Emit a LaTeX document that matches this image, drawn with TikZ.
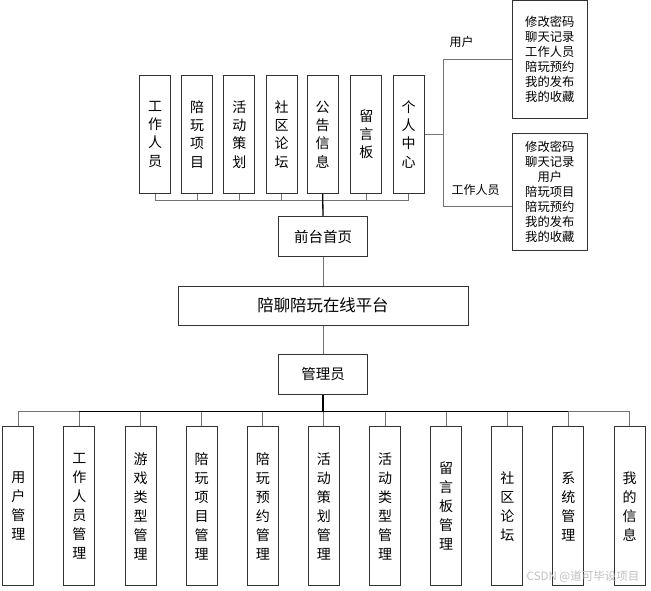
\documentclass[tikz,border=0pt]{standalone}
\usepackage{fontspec}
\setmainfont{Noto Sans CJK SC}
\begin{document}
\begin{tikzpicture}[x=1pt,y=-1pt,
  box/.style={draw=black!80, line width=1pt, inner sep=0pt, align=center},
  topbox/.style={box, minimum width=31pt, minimum height=118pt, font=\fontsize{14}{18.3}\selectfont},
  botbox/.style={box, minimum width=31pt, minimum height=159pt, font=\fontsize{14}{19}\selectfont},
  midbox/.style={box, minimum height=40pt, font=\fontsize{14.5}{17}\selectfont},
  sidebox/.style={box, minimum width=75pt, font=\fontsize{12.3}{15}\selectfont},
  lbl/.style={inner sep=0pt, font=\fontsize{12}{14}\selectfont},
  link/.style={draw=black!55, line width=0.9pt},
  mainlink/.style={draw=black, line width=1.3pt}]
\useasboundingbox (0,0) rectangle (651,591);

% top row
\node[topbox] (t1) at (155,134.3) {工\\作\\人\\员};
\node[topbox] (t2) at (197,134.3) {陪\\玩\\项\\目};
\node[topbox] (t3) at (239.3,134.3) {活\\动\\策\\划};
\node[topbox] (t4) at (281.7,134.3) {社\\区\\论\\坛};
\node[topbox] (t5) at (322.7,134.3) {公\\告\\信\\息};
\node[topbox] (t6) at (366.3,134.3) {留\\言\\板};
\node[topbox] (t7) at (408.7,134.3) {个\\人\\中\\心};

\node[midbox, minimum width=89pt] (home) at (323,236.7) {前台首页};
\node[midbox, minimum width=290pt, minimum height=39pt, font=\fontsize{16.4}{19}\selectfont] (plat) at (323,305.5) {陪聊陪玩在线平台};
\node[midbox, minimum width=89pt] (admin) at (323,374) {管理员};

% top bus
\coordinate (tb) at (323,200);
\draw[link] (t1.south) -- (t1.south |- tb) -- (t7.south |- tb) -- (t7.south);
\foreach \n in {t2,t3,t4,t6} \draw[link] (\n.south) -- (\n.south |- tb);
\draw[mainlink] (t5.south) -- (home.north);
\draw[link] (home.south) -- (plat.north);
\draw[link] (plat.south) -- (admin.north);

% bottom row
\node[botbox] (b1) at (18.3,506.3) {用\\户\\管\\理};
\node[botbox] (b2) at (79.4,506.3) {工\\作\\人\\员\\管\\理};
\node[botbox] (b3) at (140.6,506.3) {游\\戏\\类\\型\\管\\理};
\node[botbox] (b4) at (201.7,506.3) {陪\\玩\\项\\目\\管\\理};
\node[botbox] (b5) at (262.8,506.3) {陪\\玩\\预\\约\\管\\理};
\node[botbox] (b6) at (323.9,506.3) {活\\动\\策\\划\\管\\理};
\node[botbox] (b7) at (385.1,506.3) {活\\动\\类\\型\\管\\理};
\node[botbox] (b8) at (446.2,506.3) {留\\言\\板\\管\\理};
\node[botbox] (b9) at (507.3,506.3) {社\\区\\论\\坛};
\node[botbox] (b10) at (568.4,506.3) {系\\统\\管\\理};
\node[botbox] (b11) at (629.6,506.3) {我\\的\\信\\息};

\coordinate (bb) at (323,411.7);
\draw[link] (b1.north) -- (b1.north |- bb) -- (b11.north |- bb) -- (b11.north);
\draw[mainlink] (b2.north |- bb) -- (b10.north |- bb);
\draw[mainlink] (admin.south) -- (bb);
\foreach \n in {b2,b3,b4,b5,b6,b7,b8,b9,b10} \draw[link] (\n.north |- bb) -- (\n.north);

% personal center branches
\node[sidebox, minimum height=117.6pt] (ru) at (549.8,59.5) {修改密码\\聊天记录\\工作人员\\陪玩预约\\我的发布\\我的收藏};
\node[sidebox, minimum height=116.7pt] (rw) at (549.8,191.7) {修改密码\\聊天记录\\用户\\陪玩项目\\陪玩预约\\我的发布\\我的收藏};
\coordinate (sj) at (443.3,134.3);
\coordinate (su) at (443.3,59.5);
\coordinate (sw) at (443.3,206.7);
\draw[link] (t7.east) -- (sj);
\draw[link] (ru.west) -- (su) -- (sw) -- (sw -| rw.west);
\node[lbl] (lu) at (461.5,42) {用户};
\node[lbl] (lw) at (475.5,190) {工作人员};

\node[inner sep=0pt, text=black!25, font=\fontsize{11.5}{13}\selectfont] (wm) at (583,577) {CSDN @道可毕设项目};
\end{tikzpicture}
\end{document}
